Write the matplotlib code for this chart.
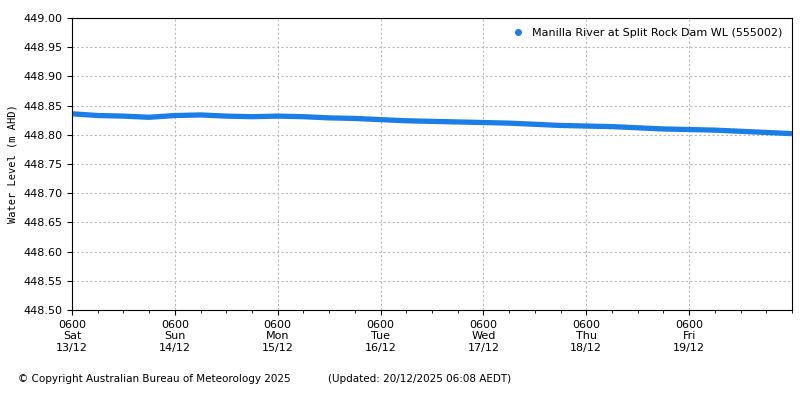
import matplotlib
matplotlib.use("Agg")
import matplotlib.pyplot as plt
import matplotlib.dates as mdates
import numpy as np
import datetime as dt

start = dt.datetime(2025, 12, 13, 6)
times = [start + dt.timedelta(hours=6 * i) for i in range(29)]
levels = [448.836, 448.833, 448.832, 448.830, 448.833, 448.834, 448.832, 448.831,
          448.832, 448.831, 448.829, 448.828, 448.826, 448.824, 448.823, 448.822,
          448.821, 448.820, 448.818, 448.816, 448.815, 448.814, 448.812, 448.810,
          448.809, 448.808, 448.806, 448.804, 448.802]
tick_labels = ["0600\nSat\n13/12", "0600\nSun\n14/12", "0600\nMon\n15/12", "0600\nTue\n16/12",
               "0600\nWed\n17/12", "0600\nThu\n18/12", "0600\nFri\n19/12"]
series_name = "Manilla River at Split Rock Dam WL (555002)"

fig = plt.figure(figsize=(8, 4), dpi=100)
ax = fig.add_axes([0.09, 0.225, 0.9, 0.73])
c = "#1a7ee6"
ax.plot(times, levels, color=c, lw=3.8, solid_capstyle="butt")
ax.plot([], [], "o", color=c, ms=4, label=series_name)
ax.set_xlim(start, start + dt.timedelta(days=7))
ax.set_ylim(448.5, 449.0)
ax.set_yticks(np.arange(448.5, 449.001, 0.05))
ax.yaxis.set_major_formatter(matplotlib.ticker.FormatStrFormatter("%.2f"))
ax.set_xticks([start + dt.timedelta(days=i) for i in range(7)])
ax.set_xticklabels(tick_labels)
ax.xaxis.set_minor_locator(mdates.HourLocator(byhour=[0, 6, 12, 18]))
ax.tick_params(labelsize=8)
ax.grid(True, ls=(0, (2, 2)), color="#bbbbbb", lw=0.8)
ax.set_ylabel("Water Level (m AHD)", family="DejaVu Sans Mono", fontsize=7.5)
ax.legend(loc="upper right", frameon=False, fontsize=8, handletextpad=0.2, markerscale=1)
fig.text(0.022, 0.045, "© Copyright Australian Bureau of Meteorology 2025", fontsize=7.5)
fig.text(0.41, 0.045, "(Updated: 20/12/2025 06:08 AEDT)", fontsize=7.5)
fig.savefig("out.png")
